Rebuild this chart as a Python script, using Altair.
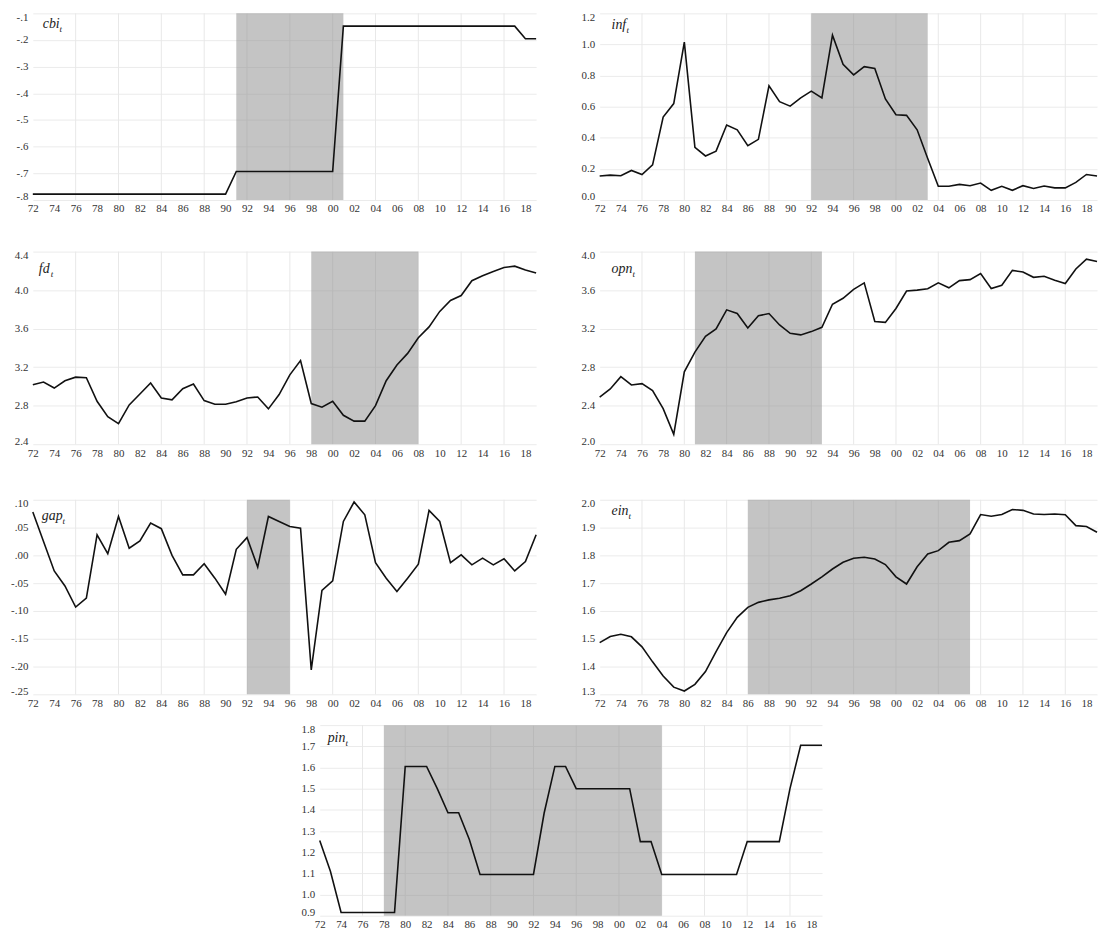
import altair as alt
import pandas as pd

years = list(range(1972, 2020))
year_ticks = list(range(1972, 2019, 2))
year_tick_labels = [str(y)[2:] for y in year_ticks]
grid_years = list(range(1976, 2017, 4))

cbi = [-0.778] * 19 + [-0.693] * 10 + [-0.148] * 17 + [-0.195] * 2
inf = [0.154, 0.16, 0.156, 0.19, 0.164, 0.226, 0.533, 0.62,
       1.015, 0.338, 0.283, 0.314, 0.482, 0.451, 0.349, 0.39, 0.734, 0.632,
       0.603, 0.656, 0.70, 0.656, 1.06, 0.872, 0.804, 0.857, 0.845, 0.65,
       0.548, 0.544, 0.451, 0.267, 0.088, 0.088, 0.10, 0.092, 0.109, 0.062,
       0.088, 0.062, 0.092, 0.074, 0.09, 0.078, 0.078, 0.113, 0.164, 0.154]
fd = [3.017, 3.045, 2.983, 3.059, 3.096, 3.09, 2.846, 2.685,
      2.613, 2.808, 2.921, 3.035, 2.88, 2.86, 2.976, 3.024, 2.853, 2.815,
      2.815, 2.84, 2.88, 2.89, 2.767, 2.915, 3.12, 3.268, 2.822, 2.784,
      2.846, 2.70, 2.64, 2.64, 2.80, 3.059, 3.223, 3.343, 3.505, 3.618,
      3.779, 3.892, 3.944, 4.098, 4.15, 4.194, 4.235, 4.249, 4.208, 4.177]
opn = [2.489, 2.574, 2.701, 2.615, 2.629, 2.557, 2.369, 2.103,
       2.752, 2.957, 3.121, 3.197, 3.395, 3.357, 3.207, 3.333, 3.357, 3.238,
       3.152, 3.135, 3.169, 3.214, 3.453, 3.515, 3.607, 3.675, 3.275, 3.265,
       3.409, 3.59, 3.60, 3.614, 3.675, 3.624, 3.699, 3.709, 3.771, 3.617,
       3.651, 3.805, 3.788, 3.733, 3.744, 3.703, 3.668, 3.819, 3.921, 3.897]
gap = [0.078, 0.025, -0.028, -0.055, -0.093, -0.077, 0.037, 0.003,
       0.07, 0.013, 0.026, 0.058, 0.048, 0.0, -0.035, -0.035, -0.015, -0.041,
       -0.07, 0.011, 0.032, -0.021, 0.07, 0.061, 0.052, 0.049, -0.206, -0.063,
       -0.046, 0.061, 0.096, 0.073, -0.013, -0.041, -0.065, -0.041, -0.016, 0.081,
       0.061, -0.013, 0.001, -0.017, -0.005, -0.017, -0.006, -0.028, -0.011, 0.037]
ein = [1.486, 1.508, 1.516, 1.507, 1.471, 1.417, 1.366, 1.326,
       1.312, 1.336, 1.382, 1.454, 1.522, 1.577, 1.613, 1.631, 1.64, 1.646,
       1.655, 1.673, 1.697, 1.723, 1.751, 1.775, 1.79, 1.793, 1.787, 1.767,
       1.723, 1.697, 1.759, 1.805, 1.817, 1.847, 1.853, 1.877, 1.947, 1.941,
       1.947, 1.965, 1.962, 1.949, 1.947, 1.949, 1.946, 1.907, 1.904, 1.883]
pin = ([1.255, 1.11] + [0.915] * 6 + [1.605] * 3 + [1.50] + [1.386] * 2 + [1.26]
       + [1.095] * 6 + [1.385] + [1.605] * 2 + [1.50] * 6 + [1.25] * 2
       + [1.095] * 8 + [1.25] * 4 + [1.50] + [1.705] * 3)

shades = {
    "cbi": (1991, 2001), "inf": (1992, 2003), "fd": (1998, 2008),
    "opn": (1981, 1993), "gap": (1992, 1996), "ein": (1986, 2007),
    "pin": (1978, 2004),
}

cbi_ticks = [-0.8, -0.7, -0.6, -0.5, -0.4, -0.3, -0.2, -0.1]
cbi_labels = ["-.8", "-.7", "-.6", "-.5", "-.4", "-.3", "-.2", "-.1"]
inf_ticks = [0.0, 0.2, 0.4, 0.6, 0.8, 1.0, 1.2]
inf_labels = ["0.0", "0.2", "0.4", "0.6", "0.8", "1.0", "1.2"]
fd_ticks = [2.4, 2.8, 3.2, 3.6, 4.0, 4.4]
fd_labels = ["2.4", "2.8", "3.2", "3.6", "4.0", "4.4"]
opn_ticks = [2.0, 2.4, 2.8, 3.2, 3.6, 4.0]
opn_labels = ["2.0", "2.4", "2.8", "3.2", "3.6", "4.0"]
gap_ticks = [-0.25, -0.2, -0.15, -0.1, -0.05, 0.0, 0.05, 0.1]
gap_labels = ["-.25", "-.20", "-.15", "-.10", "-.05", ".00", ".05", ".10"]
ein_ticks = [1.3, 1.4, 1.5, 1.6, 1.7, 1.8, 1.9, 2.0]
ein_labels = ["1.3", "1.4", "1.5", "1.6", "1.7", "1.8", "1.9", "2.0"]
pin_ticks = [0.9, 1.0, 1.1, 1.2, 1.3, 1.4, 1.5, 1.6, 1.7, 1.8]
pin_labels = ["0.9", "1.0", "1.1", "1.2", "1.3", "1.4", "1.5", "1.6", "1.7", "1.8"]

FONT = "Liberation Serif, Times New Roman, serif"


def lookup_expr(values, labels):
    vals = "[" + ",".join(repr(v) for v in values) + "]"
    labs = "[" + ",".join("'" + s + "'" for s in labels) + "]"
    return f"{labs}[indexof({vals}, datum.value)]"


def panel(name, vals, ticks, labels, w, h, yext, xext, ldx, ldy, subdx):
    df = pd.DataFrame({"year": years, "v": vals})
    ymin, ymax = ticks[0], ticks[-1]
    xscale = alt.Scale(domain=[1972, 2019], nice=False, zero=False)
    yscale = alt.Scale(domain=[ymin, ymax], nice=False, zero=False)
    xaxis = alt.Axis(values=year_ticks, labelExpr=lookup_expr(year_ticks, year_tick_labels),
                     grid=False, ticks=False, domain=False, labelFont=FONT,
                     labelFontSize=11, labelColor="#333333", labelPadding=3,
                     labelFlush=False, labelOverlap=False,
                     minExtent=xext, maxExtent=xext, title=None)
    yaxis = alt.Axis(values=ticks, labelExpr=lookup_expr(ticks, labels),
                     grid=True, gridColor="#ebebeb", gridWidth=1, ticks=False,
                     domain=False, labelFont=FONT, labelFontSize=11,
                     labelColor="#333333", labelPadding=5, labelOverlap=False,
                     labelFlush=True, labelFlushOffset=2,
                     minExtent=yext, maxExtent=yext, title=None)
    grid = alt.Chart(pd.DataFrame({"year": grid_years})).mark_rule(
        color="#e8e8e8", strokeWidth=1
    ).encode(x=alt.X("year:Q", scale=xscale, axis=xaxis))
    s0, s1 = shades[name]
    shade = alt.Chart(pd.DataFrame({"s": [s0], "e": [s1]})).mark_rect(
        color="#8a8a8a", opacity=0.5
    ).encode(
        x=alt.X("s:Q", scale=xscale, axis=xaxis), x2="e:Q",
        y=alt.YDatum(ymin, scale=yscale, axis=yaxis, type="quantitative"),
        y2=alt.Y2Datum(ymax),
    )
    line = alt.Chart(df).mark_line(color="#111111", strokeWidth=1.6).encode(
        x=alt.X("year:Q", scale=xscale, axis=xaxis),
        y=alt.Y("v:Q", scale=yscale, axis=yaxis),
    )
    main = alt.Chart(pd.DataFrame({"t": [name]})).mark_text(
        font=FONT, fontSize=14, fontStyle="italic", align="left",
        baseline="middle", color="#222222"
    ).encode(text="t:N", x=alt.value(ldx), y=alt.value(ldy))
    sub = alt.Chart(pd.DataFrame({"t": ["t"]})).mark_text(
        font=FONT, fontSize=9, fontStyle="italic", align="left",
        baseline="middle", color="#222222"
    ).encode(text="t:N", x=alt.value(ldx + subdx), y=alt.value(ldy + 5))
    return alt.layer(grid, shade, line, main, sub).properties(width=w, height=h)


LW, RW, PW = 507, 501, 506
YL, YR = 25, 22

row1 = alt.hconcat(
    panel("cbi", cbi, cbi_ticks, cbi_labels, LW, 188, YL, 50, 10, 11, 17),
    panel("inf", inf, inf_ticks, inf_labels, RW, 188, YR, 50, 12, 12, 15),
    spacing=38,
)
row2 = alt.hconcat(
    panel("fd", fd, fd_ticks, fd_labels, LW, 194, YL, 54, 6, 18, 12),
    panel("opn", opn, opn_ticks, opn_labels, RW, 194, YR, 54, 12, 18, 21),
    spacing=38,
)
row3 = alt.hconcat(
    panel("gap", gap, gap_ticks, gap_labels, LW, 196, YL, 28, 9, 16, 21),
    panel("ein", ein, ein_ticks, ein_labels, RW, 196, YR, 28, 12, 11, 17),
    spacing=38,
)
spacer = alt.Chart(pd.DataFrame({"a": [0]})).mark_point(opacity=0).encode(
    x=alt.value(0), y=alt.value(0)
).properties(width=254, height=192)
row4 = alt.hconcat(
    spacer,
    panel("pin", pin, pin_ticks, pin_labels, PW, 192, YL, 14, 8, 13, 18),
    spacing=10,
)

chart = alt.vconcat(row1, row2, row3, row4, spacing=0).properties(
    padding=0, background="white"
).configure_view(stroke=None)

chart.save("out.html", embed_options={"renderer": "svg", "actions": False})
